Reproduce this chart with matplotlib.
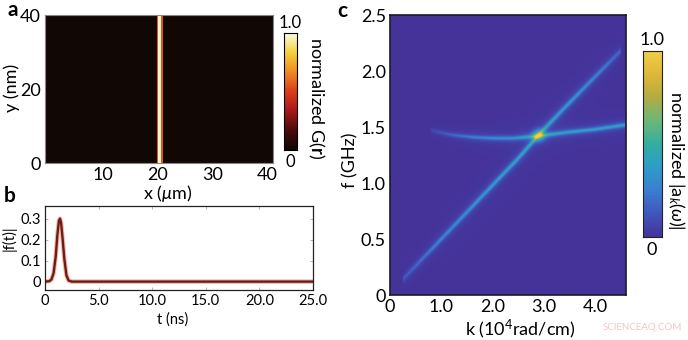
import matplotlib as mpl

mpl.use('Agg')
import matplotlib.pyplot as plt
import numpy as np
from matplotlib.colors import LinearSegmentedColormap

plt.rcParams['font.family'] = ['Lato', 'DejaVu Sans']
plt.rcParams['mathtext.fontset'] = 'custom'
plt.rcParams['mathtext.rm'] = 'Lato'
plt.rcParams['mathtext.it'] = 'Lato:italic'
plt.rcParams['mathtext.bf'] = 'Lato:bold'

# panel a: profile of G(r) across x (cells in x, uniform in y)
a_x_edges = [-0.5, 19.9, 20.15, 20.4, 20.65, 20.9, 41.0]
a_g_cols = [0.015, 0.55, 0.97, 0.97, 0.55, 0.015]
a_y_edges = [0, 40]

# panel b: pulse |f(t)|
b_t = [0.0, 0.4, 0.6, 0.8, 1.0, 1.15, 1.3, 1.4, 1.5, 1.65, 1.8, 2.0, 2.2, 2.5, 25.0]
b_f = [0.0, 0.002, 0.01, 0.04, 0.12, 0.22, 0.29, 0.30, 0.28, 0.20, 0.11, 0.03, 0.005, 0.0, 0.0]

# panel c: dispersion branches (k in 1e4 rad/cm, f in GHz, ridge height)
c_lin_k = [0.25, 1.0, 2.0, 2.5, 2.9, 3.4, 4.0, 4.5]
c_lin_f = [0.14, 0.50, 0.98, 1.22, 1.43, 1.67, 1.95, 2.18]
c_lin_amp = [0.14, 0.30, 0.40, 0.44, 0.48, 0.40, 0.30, 0.18]
c_flat_k = [0.8, 1.2, 1.6, 2.0, 2.4, 2.9, 3.4, 4.0, 4.6]
c_flat_f = [1.47, 1.43, 1.41, 1.40, 1.40, 1.42, 1.45, 1.48, 1.52]
c_flat_amp = [0.08, 0.18, 0.26, 0.32, 0.36, 0.48, 0.42, 0.42, 0.42]
c_cross = (2.9, 1.425, 0.45)

W, H = 688, 340
fig = plt.figure(figsize=(W / 100, H / 100), dpi=100)


def px_axes(x0, y0, x1, y1):
    return fig.add_axes([x0 / W, 1 - y1 / H, (x1 - x0) / W, (y1 - y0) / H])


# ---------- a ----------
hot = LinearSegmentedColormap.from_list('g', ['#0d0806', '#4a0c0a', '#a8181a', '#dc3d1c',
                                              '#ee8a22', '#f2d23a', '#fdfbe6'])
ax = px_axes(45, 15, 273, 163)
ax.pcolormesh(a_x_edges, a_y_edges, np.array([a_g_cols]), cmap=hot, vmin=0, vmax=1)
ax.set_xlim(-0.5, 41)
ax.set_ylim(0, 40)
ax.set_xticks([10, 20, 30, 40])
ax.set_yticks([0, 20, 40])
ax.tick_params(length=0, labelsize=13, pad=3)
for s in ax.spines.values():
    s.set_color('#888888')
    s.set_linewidth(0.8)
fig.text(12 / W, 1 - 88 / H, 'y (nm)', rotation=90, ha='center', va='center', fontsize=13)
fig.text(168 / W, 1 - 193 / H, r'x ($\mu$m)', ha='center', va='center', fontsize=13)

cax = px_axes(284, 33, 297, 150)
cax.imshow(np.linspace(0, 1, 256)[:, None], cmap=hot, aspect='auto', origin='lower')
cax.set_xticks([])
cax.set_yticks([])
fig.text(290 / W, 1 - 23 / H, '1.0', ha='center', va='center', fontsize=12)
fig.text(290 / W, 1 - 162 / H, '0', ha='center', va='center', fontsize=12)
fig.text(316 / W, 1 - 98 / H, r'normalized G($\mathbf{r}$)', rotation=-90,
         ha='center', va='center', fontsize=13)

# ---------- b ----------
bx = px_axes(45, 206, 313, 290)
bx.plot(b_t, b_f, color='#f4b4a6', lw=3.2, solid_capstyle='round')
bx.plot(b_t, b_f, color='#6b1e18', lw=1.7)
bx.set_xlim(0, 25)
bx.set_ylim(-0.04, 0.36)
bx.set_xticks([0, 5, 10, 15, 20, 25])
bx.set_xticklabels(['0', '5.0', '10.0', '15.0', '20.0', '25.0'])
bx.set_yticks([0, 0.1, 0.2, 0.3])
bx.set_yticklabels(['0', '0.1', '0.2', '0.3'])
bx.tick_params(direction='in', length=2.5, width=0.6, color='#aaaaaa', labelsize=10.5,
               pad=3, top=True, right=True)
for s in bx.spines.values():
    s.set_color('#222222')
    s.set_linewidth(0.9)
fig.text(9 / W, 1 - 238 / H, '|f(t)|', rotation=90, ha='center', va='center', fontsize=10.5)
fig.text(173 / W, 1 - 320 / H, 't (ns)', ha='center', va='center', fontsize=10.5)

# ---------- c ----------
par = LinearSegmentedColormap.from_list('p', ['#45339a', '#4157bd', '#3a7fd0', '#2e9dc8',
                                              '#35aea0', '#6cb878', '#b4ac42', '#e0b838',
                                              '#f0d048'])
kk = np.linspace(0, 4.6, 460)
ff = np.linspace(0, 2.5, 500)
K, F = np.meshgrid(kk, ff)
Z = np.zeros_like(K)
for bk, bf, ba, w in [(c_lin_k, c_lin_f, c_lin_amp, 0.021),
                      (c_flat_k, c_flat_f, c_flat_amp, 0.015)]:
    fc = np.interp(kk, bk, bf)
    amp = np.interp(kk, bk, ba, left=0, right=0)
    Z += amp[None, :] * w ** 2 / ((F - fc[None, :]) ** 2 + w ** 2)
Z += c_cross[2] * np.exp(-((K - c_cross[0]) ** 2 / (2 * 0.08 ** 2)
                           + (F - c_cross[1]) ** 2 / (2 * 0.035 ** 2)))
Z = np.clip(Z, 0, 1)

cx = px_axes(390, 15, 626, 295)
cx.imshow(Z, cmap=par, vmin=0, vmax=1, origin='lower', aspect='auto',
          extent=[0, 4.6, 0, 2.5], interpolation='bilinear')
cx.set_xlim(0, 4.6)
cx.set_ylim(0, 2.5)
cx.set_xticks([0, 1, 2, 3, 4])
cx.set_xticklabels(['0', '1.0', '2.0', '3.0', '4.0'])
cx.set_yticks([0, 0.5, 1.0, 1.5, 2.0, 2.5])
cx.set_yticklabels(['0', '0.5', '1.0', '1.5', '2.0', '2.5'])
cx.tick_params(length=0, labelsize=13, pad=3)
for s in cx.spines.values():
    s.set_color('#1a1a2a')
    s.set_linewidth(1.2)
fig.text(350 / W, 1 - 160 / H, 'f (GHz)', rotation=90, ha='center', va='center', fontsize=13)
fig.text(520 / W, 1 - 329 / H, r'k (10$^4$rad/cm)', ha='center', va='center', fontsize=13)

ccx = px_axes(643, 51, 662, 237)
ccx.imshow(np.linspace(0, 1, 256)[:, None], cmap=par, aspect='auto', origin='lower')
ccx.set_xticks([])
ccx.set_yticks([])
for s in ccx.spines.values():
    s.set_color('#222222')
fig.text(652 / W, 1 - 40 / H, '1.0', ha='center', va='center', fontsize=13)
fig.text(652 / W, 1 - 250 / H, '0', ha='center', va='center', fontsize=13)
fig.text(676 / W, 1 - 160 / H, r'normalized |a$_k$($\omega$)|', rotation=-90,
         ha='center', va='center', fontsize=13)

# panel letters
fig.text(13 / W, 1 - 10 / H, 'a', ha='center', va='center', fontsize=15, fontweight='bold')
fig.text(10 / W, 1 - 196 / H, 'b', ha='center', va='center', fontsize=15, fontweight='bold')
fig.text(342 / W, 1 - 11 / H, 'c', ha='center', va='center', fontsize=15, fontweight='bold')

fig.text(642 / W, 1 - 327 / H, 'SCIENCEAQ.COM', ha='center', va='center', fontsize=7,
         color='#f2c6c6')

fig.savefig('out.png', dpi=100)
